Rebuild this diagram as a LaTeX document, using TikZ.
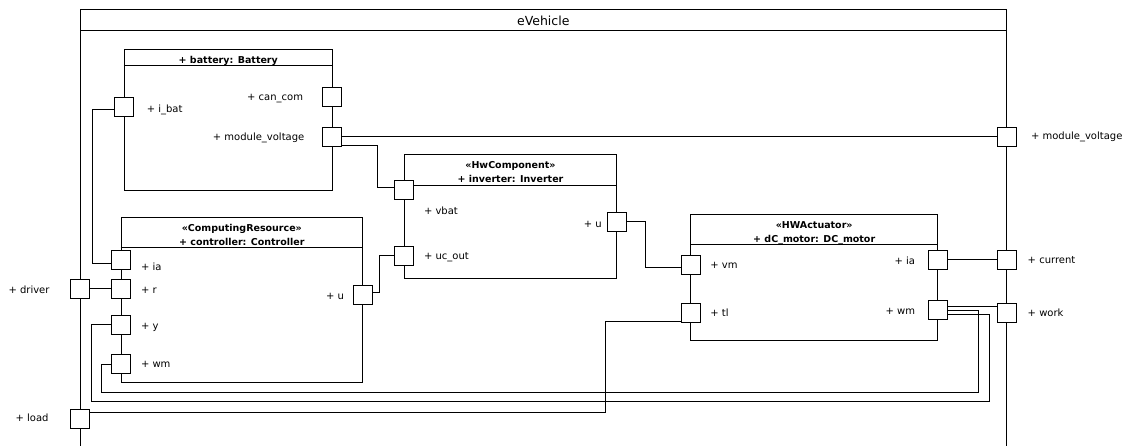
\documentclass[tikz,border=0pt]{standalone}
\usepackage{fontspec}
\setmainfont{DejaVu Sans}
\usetikzlibrary{positioning}

\begin{document}
\begin{tikzpicture}[
  x=1pt, y=-1pt,
  line width=1pt,
  every node/.style={inner sep=0pt},
  block/.style={draw},
  port/.style={draw, fill=white, minimum size=19pt},
  lbl/.style={font=\fontsize{10}{12}\selectfont, text height=7pt, text depth=2pt},
  head/.style={font=\fontsize{9.5}{14}\selectfont\bfseries, align=center}
]
\useasboundingbox (0,0) rectangle (1130,446);

% eVehicle frame
\draw (80,446) -- (80,9.5) -- (1006.7,9.5) -- (1006.7,446);
\draw (80,30.7) -- (1006.7,30.7);
\node[font=\fontsize{12.5}{14}\selectfont] (veh) at (543.3,21) {eVehicle};

% parts
\node[block, minimum width=208pt, minimum height=141pt] (bat) at (228.3,120.5) {};
\draw ([yshift=-16pt]bat.north west) -- ([yshift=-16pt]bat.north east);
\node[head, below=6.3pt of bat.north] {+ battery: Battery};

\node[block, minimum width=212.4pt, minimum height=123.7pt] (inv) at (510.5,216.85) {};
\draw ([yshift=-30.7pt]inv.north west) -- ([yshift=-30.7pt]inv.north east);
\node[head, below=6.6pt of inv.north] {«HwComponent»\\+ inverter: Inverter};

\node[block, minimum width=241.7pt, minimum height=164.7pt] (ctl) at (241.85,299.65) {};
\draw ([yshift=-30.7pt]ctl.north west) -- ([yshift=-30.7pt]ctl.north east);
\node[head, below=7pt of ctl.north] {«ComputingResource»\\+ controller: Controller};

\node[block, minimum width=247pt, minimum height=126pt] (mot) at (814.2,277.3) {};
\draw ([yshift=-30.4pt]mot.north west) -- ([yshift=-30.4pt]mot.north east);
\node[head, below=7.2pt of mot.north] {«HWActuator»\\+ dC\_motor: DC\_motor};

% ports
\node[port] (bat-ib) at (124.3,107.5) {};
\node[port] (bat-cc) at (332.3,97.5) {};
\node[port] (bat-mv) at (332.3,136.7) {};
\node[port] (inv-vb) at (404.3,190) {};
\node[port] (inv-uc) at (404.3,256) {};
\node[port] (inv-u) at (616.7,222) {};
\node[port] (ctl-ia) at (121,260) {};
\node[port] (ctl-r) at (121,289) {};
\node[port] (ctl-y) at (121,325) {};
\node[port] (ctl-wm) at (121,364) {};
\node[port] (ctl-u) at (362.7,295) {};
\node[port] (mot-vm) at (690.7,264.7) {};
\node[port] (mot-tl) at (690.7,313) {};
\node[port] (mot-ia) at (937.7,259.7) {};
\node[port] (mot-wm) at (937.7,310) {};
\node[port] (out-dr) at (80,289) {};
\node[port] (out-ld) at (80,419) {};
\node[port] (out-mv) at (1006.7,136.7) {};
\node[port] (out-cu) at (1006.7,259.7) {};
\node[port] (out-wk) at (1006.7,313) {};

% port labels
\node[lbl, right=12pt of bat-ib, yshift=-2.5pt] {+ i\_bat};
\node[lbl, left=18.8pt of bat-cc, yshift=-0.5pt] {+ can\_com};
\node[lbl, left=17.5pt of bat-mv, yshift=-1.3pt] {+ module\_voltage};
\node[lbl, right=9.2pt of inv-vb, yshift=-21.7pt] {+ vbat};
\node[lbl, right=9.2pt of inv-uc, yshift=-0.7pt] {+ uc\_out};
\node[lbl, left=4.5pt of inv-u, yshift=-3pt] {+ u};
\node[lbl, right=9.5pt of ctl-ia, yshift=-7.7pt] {+ ia};
\node[lbl, right=9.5pt of ctl-r, yshift=-1.7pt] {+ r};
\node[lbl, right=9.5pt of ctl-y, yshift=-1.7pt] {+ y};
\node[lbl, right=9.5pt of ctl-wm, yshift=-0.7pt] {+ wm};
\node[lbl, left=8.2pt of ctl-u, yshift=-1.7pt] {+ u};
\node[lbl, right=9.1pt of mot-vm, yshift=-1pt] {+ vm};
\node[lbl, right=9.1pt of mot-tl, yshift=-1.3pt] {+ tl};
\node[lbl, left=12.2pt of mot-ia, yshift=-2.6pt] {+ ia};
\node[lbl, left=12.2pt of mot-wm, yshift=-2.3pt] {+ wm};
\node[lbl, left=20pt of out-dr, yshift=-1.7pt] {+ driver};
\node[lbl, left=21pt of out-ld, yshift=-0.3pt] {+ load};
\node[lbl, right=13.8pt of out-mv] {+ module\_voltage};
\node[lbl, right=10.5pt of out-cu, yshift=-1pt] {+ current};
\node[lbl, right=10.5pt of out-wk, yshift=-1pt] {+ work};

% connectors
\draw ([yshift=-2.5pt]bat-ib.west) -- ++(-21.7,0) |- ([yshift=-4pt]ctl-ia.west);
\draw (out-dr.east) -- (ctl-r.west);
\draw (bat-mv.east) -- (out-mv.west);
\draw ([yshift=-9pt]bat-mv.east) -- ++(35.4,0) |- ([yshift=2.7pt]inv-vb.west);
\draw ([yshift=2.7pt]ctl-u.east) -- ++(6.6,0) |- (inv-uc.west);
\draw (inv-u.east) -- ++(18.3,0) |- ([yshift=-2.5pt]mot-vm.west);
\draw (mot-ia.east) -- (out-cu.west);
\draw ([yshift=3.5pt]mot-wm.east) -- ([yshift=3.5pt]mot-wm.east -| out-wk.west);
\draw ([yshift=-1pt]mot-wm.east) -- ++(31,0) |- ([xshift=-9.5pt,yshift=-28pt]ctl-wm.west) |- (ctl-wm.west);
\draw ([yshift=-4.5pt]mot-wm.east) -- ++(42,0) |- ([xshift=-19.5pt,yshift=-76pt]ctl-y.west) |- (ctl-y.west);
\draw ([yshift=6.3pt]out-ld.east) -- ++(515,0) |- ([yshift=-8.7pt]mot-tl.west);
\end{tikzpicture}
\end{document}
